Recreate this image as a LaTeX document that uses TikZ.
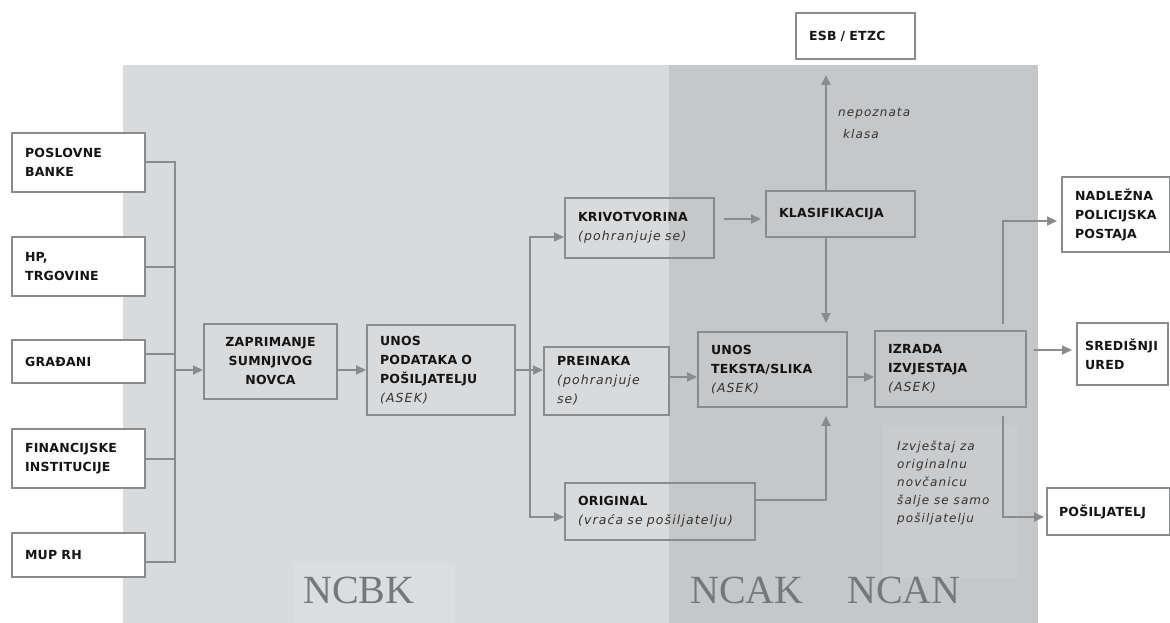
\documentclass[tikz,border=0pt]{standalone}
\usepackage{fontspec}
\setmainfont{DejaVu Sans}[LetterSpace=2]
\newfontfamily\subfont{DejaVu Sans Oblique}[LetterSpace=9]
\newfontfamily\ncfont{Liberation Serif}
\usepackage{tikz}
\usetikzlibrary{positioning}
\usetikzlibrary{arrows.meta}

\definecolor{lightbg}{HTML}{D9DADC}
\definecolor{darkbg}{HTML}{C6C7C9}
\definecolor{notebg}{HTML}{CACBCD}
\definecolor{labelbg}{HTML}{DCDDDF}
\definecolor{linegray}{HTML}{8A8B8D}
\definecolor{ink}{HTML}{141414}
\definecolor{subink}{HTML}{333333}
\definecolor{ncgray}{HTML}{76777B}

\newcommand{\subt}[1]{{\mdseries\subfont\fontsize{12.5}{19}\selectfont\color{subink}#1}}

\tikzset{
  box/.style={rectangle, draw=linegray, line width=2pt, align=left,
    inner xsep=12pt, inner ysep=3pt, text=ink,
    font=\fontsize{12.5}{19}\selectfont\bfseries},
  outbox/.style={box, fill=white},
  leftbox/.style={outbox, minimum width=133, text width=107},
  conn/.style={draw=linegray, line width=2pt},
  arr/.style={conn, arrows=-{Triangle[length=10pt,width=9pt]}},
  note/.style={inner sep=0pt, align=left, text=subink,
    font=\subfont\fontsize{12}{18}\selectfont},
  nclabel/.style={inner sep=0pt, text=ncgray,
    font=\ncfont\fontsize{40}{40}\selectfont}
}

\begin{document}
\begin{tikzpicture}[x=1pt, y=-1pt]

            % \draw [help lines] (0,0) grid (1170,623);
            \useasboundingbox (0,0) rectangle (1170,623);
            \fill[white] (0,0) rectangle (1170,623);
            \fill[lightbg] (123,65) rectangle (669,623);
            \fill[darkbg] (669,65) rectangle (1038,623);
            \fill[labelbg] (293,563) rectangle (455,623);
            \fill[notebg] (883,425) rectangle (1018,578);

            \path   (78.5,162.5) node (banke) [leftbox, minimum height=59] {POSLOVNE\\BANKE}
                    (78.5,266.5) node (hp) [leftbox, minimum height=59] {HP,\\TRGOVINE}
                    (78.5,361.5) node (grad) [leftbox, minimum height=43] {GRAĐANI}
                    (78.5,458.5) node (fin) [leftbox, minimum height=59] {FINANCIJSKE\\INSTITUCIJE}
                    (78.5,555) node (mup) [leftbox, minimum height=44] {MUP RH}

                    (270.5,361.5) node (zap) [box, align=center, minimum width=133, text width=107, minimum height=75] {ZAPRIMANJE\\SUMNJIVOG\\NOVCA}
                    (441,370) node (unosp) [box, minimum width=148, text width=122, minimum height=90] {UNOS\\PODATAKA O\\POŠILJATELJU\\\subt{(ASEK)}}

                    (639.5,228) node (kriv) [box, minimum width=149, text width=123, minimum height=60] {KRIVOTVORINA\\\subt{(pohranjuje se)}}
                    (606.5,381) node (prein) [box, minimum width=125, text width=99, minimum height=68] {PREINAKA\\\subt{(pohranjuje}\\\subt{se)}}
                    (660,511.5) node (orig) [box, minimum width=190, text width=164, minimum height=57] {ORIGINAL\\\subt{(vraća se pošiljatelju)}}

                    (840.5,214) node (klas) [box, minimum width=149, text width=123, minimum height=46] {KLASIFIKACIJA}
                    (855.5,36) node (esb) [outbox, minimum width=119, text width=93, minimum height=46] {ESB / ETZC}
                    (772.5,369.5) node (unost) [box, minimum width=149, text width=123, minimum height=75] {UNOS\\TEKSTA/SLIKA\\\subt{(ASEK)}}
                    (950.5,369) node (izrada) [box, minimum width=151, text width=125, minimum height=76] {IZRADA\\IZVJESTAJA\\\subt{(ASEK)}}

                    (1116,214.5) node (nadl) [outbox, minimum width=108, text width=82, minimum height=75] {NADLEŽNA\\POLICIJSKA\\POSTAJA}
                    (1122.5,354) node (sred) [outbox, minimum width=91, text width=75, inner xsep=8pt, minimum height=62] {SREDIŠNJI\\URED}
                    (1108.5,511.5) node (posi) [outbox, minimum width=123, text width=99, minimum height=47] {POŠILJATELJ};

            \path   (838,108) node (nepo) [note, anchor=north west, font=\subfont\fontsize{12}{22}\selectfont] {nepoznata\\\hspace*{5pt}klasa}
                    (897,441) node (izvj) [note, anchor=north west] {Izvještaj za\\originalnu\\novčanicu\\šalje se samo\\pošiljatelju};

            \path   (359,590) node (ncbk) [nclabel] {NCBK}
                    (747,590) node (ncak) [nclabel] {NCAK}
                    (904,590) node (ncan) [nclabel] {NCAN};

            \coordinate (j1) at (175,370);
            \coordinate (j2) at (530,370);
            \coordinate (r) at (0,377);
            \coordinate (k) at (0,219);
            \coordinate (v) at (826,0);
            \coordinate (o) at (0,500);
            \coordinate (w) at (1003,0);
            \coordinate (s) at (0,350);

            \draw[conn] (banke.east) -| (j1);
            \draw[conn] (hp.east) -| (j1);
            \draw[conn] ([yshift=7.5pt]grad.east) -| (j1);
            \draw[conn] (fin.east) -| (j1);
            \draw[conn] ([yshift=-7pt]mup.east) -| (j1);
            \draw[arr] (j1) -- (j1 -| zap.west);

            \draw[arr] (zap.east |- unosp.west) -- (unosp.west);
            \draw[conn] (unosp.east) -- (j2);
            \draw[arr] (j2) |- ([yshift=-9pt]kriv.west);
            \draw[arr] (j2) -- (j2 -| prein.west);
            \draw[arr] (j2) |- ([yshift=-5.5pt]orig.west);

            \draw[arr] (prein.east |- r) -- (unost.west |- r);
            \draw[arr] (unost.east |- r) -- (izrada.west |- r);
            \draw[arr, shorten <=9pt, shorten >=4pt] (kriv.east |- k) -- (klas.west |- k);
            \draw[arr, shorten >=15pt] (klas.north -| v) -- (esb.south -| v);
            \draw[arr, shorten >=8pt] (klas.south -| v) -- (unost.north -| v);
            \draw[arr, shorten >=8pt] (orig.east |- o) -| (unost.south -| v);

            \draw[arr, shorten <=6pt, shorten >=4pt] (izrada.north -| w) |- ([yshift=-6.5pt]nadl.west);
            \draw[arr, shorten <=7pt, shorten >=4pt] (izrada.east |- s) -- (sred.west |- s);
            \draw[arr, shorten <=8pt, shorten >=2pt] (izrada.south -| w) |- ([yshift=-5.5pt]posi.west);

\end{tikzpicture}
\end{document}
